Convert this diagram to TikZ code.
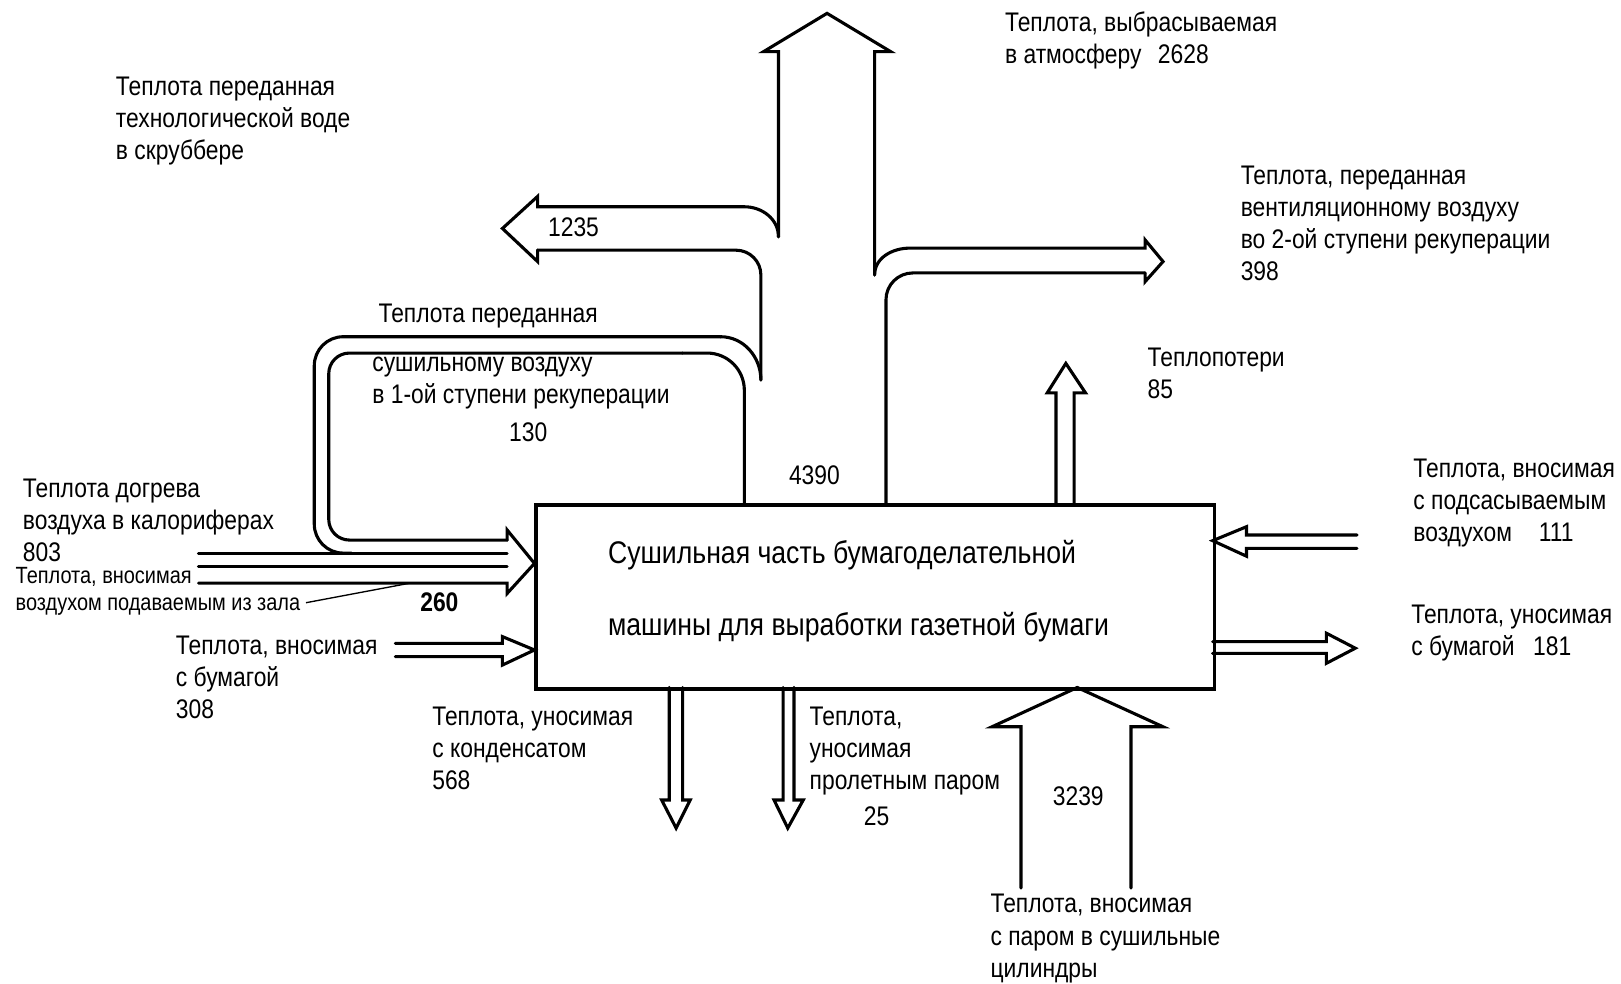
\documentclass[tikz,border=0pt]{standalone}
\usepackage{fontspec}
\setmainfont{Liberation Sans}[FakeStretch=0.85]
\begin{document}
\begin{tikzpicture}[x=1pt,y=-1pt,
    flow/.style={line width=3pt, line cap=round, line join=miter},
    lbl/.style={anchor=north west, inner sep=0pt, align=left, font=\fontsize{26}{31}\selectfont},
    num/.style={inner sep=0pt, font=\fontsize{26}{31}\selectfont},
    small/.style={anchor=north west, inner sep=0pt, align=left, font=\fontsize{22.7}{26}\selectfont}]
    \useasboundingbox (0,0) rectangle (1568,951);
    \node[draw, line width=3pt, minimum width=656pt, minimum height=178pt, anchor=north west, inner sep=0pt] (dryer) at (517,487) {};
    \node[lbl, font=\fontsize{30.3}{70}\selectfont] (dryertxt) at (588,522) {Сушильная часть бумагоделательной\\машины для выработки газетной бумаги};

    \draw[flow, rounded corners=26] (857,487) |- (1107.6,264);
    \draw[flow] (1107.6,264) -- (1107.6,272.5) -- (1125,253) -- (1107.6,232) -- (1107.6,240) -- (880,240) to[out=180,in=90] (846,266);
    \draw[flow] (846,266) -- (846,50) -- (861.6,50) -- (800,12.9) -- (738.5,50) -- (753,50) -- (753,229);
    \draw[flow] (753,229) to[out=90,in=0] (720,200) -- (520,200) -- (520,190) -- (486,221) -- (520,253) -- (520,242);
    \draw[flow, rounded corners=24] (520,242) -| (736,367.6);
    \draw[flow] (736,367.6) to[out=90,in=0] (697,325.7);
    \draw[flow, rounded corners=28] (697,325.7) -| (304,535) -- (340,535);
    \draw[flow, rounded corners=36] (720,487) |- (660,341.5);
    \draw[flow, rounded corners=20] (660,341.5) -| (318,522.4) -- (490.6,522.4);
    \draw[flow] (490.6,522.4) -- (490.6,512.7) -- (517,545) -- (490.6,574) -- (490.6,564) -- (192,564);
    \draw[flow] (192,535) -- (490.6,535);
    \draw[flow] (192,548) -- (490.6,548);

    \draw[flow] (1021.5,487) -- (1021.5,380) -- (1013,380) -- (1031,351.5) -- (1050,380) -- (1039,380) -- (1039,487);
    \draw[flow] (647.4,665) -- (647.4,773.8) -- (640,773.8) -- (654,801) -- (667.6,773.8) -- (660.3,773.8) -- (660.3,665);
    \draw[flow] (757.5,665) -- (757.5,773.8) -- (748.7,773.8) -- (762,801) -- (777,773.8) -- (768,773.8) -- (768,665);
    \draw[flow] (987.6,859) -- (987.6,703) -- (959.6,703) -- (1042,665) -- (1125,703) -- (1094,703) -- (1094,859);
    \draw[flow] (382.4,622.3) -- (486,622.3) -- (486,615.8) -- (517,628.7) -- (486,643.3) -- (486,635.2) -- (382.4,635.2);
    \draw[flow] (1312.6,517.5) -- (1205.7,517.5) -- (1205.7,509.5) -- (1173,523) -- (1205.7,538) -- (1205.7,530.4) -- (1312.6,530.4);
    \draw[flow] (1173,620.7) -- (1283,620.7) -- (1283,612.5) -- (1311,627) -- (1283,641.6) -- (1283,632) -- (1173,632);

    \node[lbl] (scrub) at (112,74) {Теплота переданная\\технологической воде\\в скруббере};
    \node[lbl] (looptop) at (366,294) {Теплота переданная};
    \node[lbl] (loopmid) at (360,345) {сушильному воздуху\\в 1-ой ступени рекуперации};
    \node[num] (n130) at (511,418) {130};
    \node[num, anchor=west] (n1235) at (530,220) {1235};
    \node[lbl] (atm) at (972,11) {Теплота, выбрасываемая\\в атмосферу\hspace{16pt}2628};
    \node[lbl] (vent) at (1200,160) {Теплота, переданная\\вентиляционному воздуху\\во 2-ой ступени рекуперации\\398};
    \node[lbl] (loss) at (1110,336) {Теплопотери\\85};
    \node[num, anchor=west] (n4390) at (763,460) {4390};
    \node[lbl] (calor) at (22,463) {Теплота догрева\\воздуха в калориферах\\803};
    \node[small] (hall) at (15,549) {Теплота, вносимая\\воздухом подаваемым из зала};
    \node[num, font=\bfseries\fontsize{26}{31}\selectfont] (n260) at (425,583) {260};
    \node[lbl] (paperin) at (170,615) {Теплота, вносимая\\с бумагой\\308};
    \node[lbl] (cond) at (418,684) {Теплота, уносимая\\с конденсатом\\568};
    \node[lbl] (through) at (783,684) {Теплота,\\уносимая\\пролетным паром};
    \node[num] (n25) at (848,790) {25};
    \node[num] (n3239) at (1043,770) {3239};
    \node[lbl] (steam) at (958,865) {Теплота, вносимая\\с паром в сушильные\\цилиндры};
    \node[lbl] (suction) at (1367,444) {Теплота, вносимая\\с подсасываемым\\воздухом\hspace{26pt}111};
    \node[lbl] (paperout) at (1365,585) {Теплота, уносимая\\с бумагой\hspace{18pt}181};

    \coordinate (leadA) at (296,583);
    \coordinate (leadB) at (397,564);
    \draw[line width=1.3pt] (leadA) -- (leadB);
\end{tikzpicture}
\end{document}
